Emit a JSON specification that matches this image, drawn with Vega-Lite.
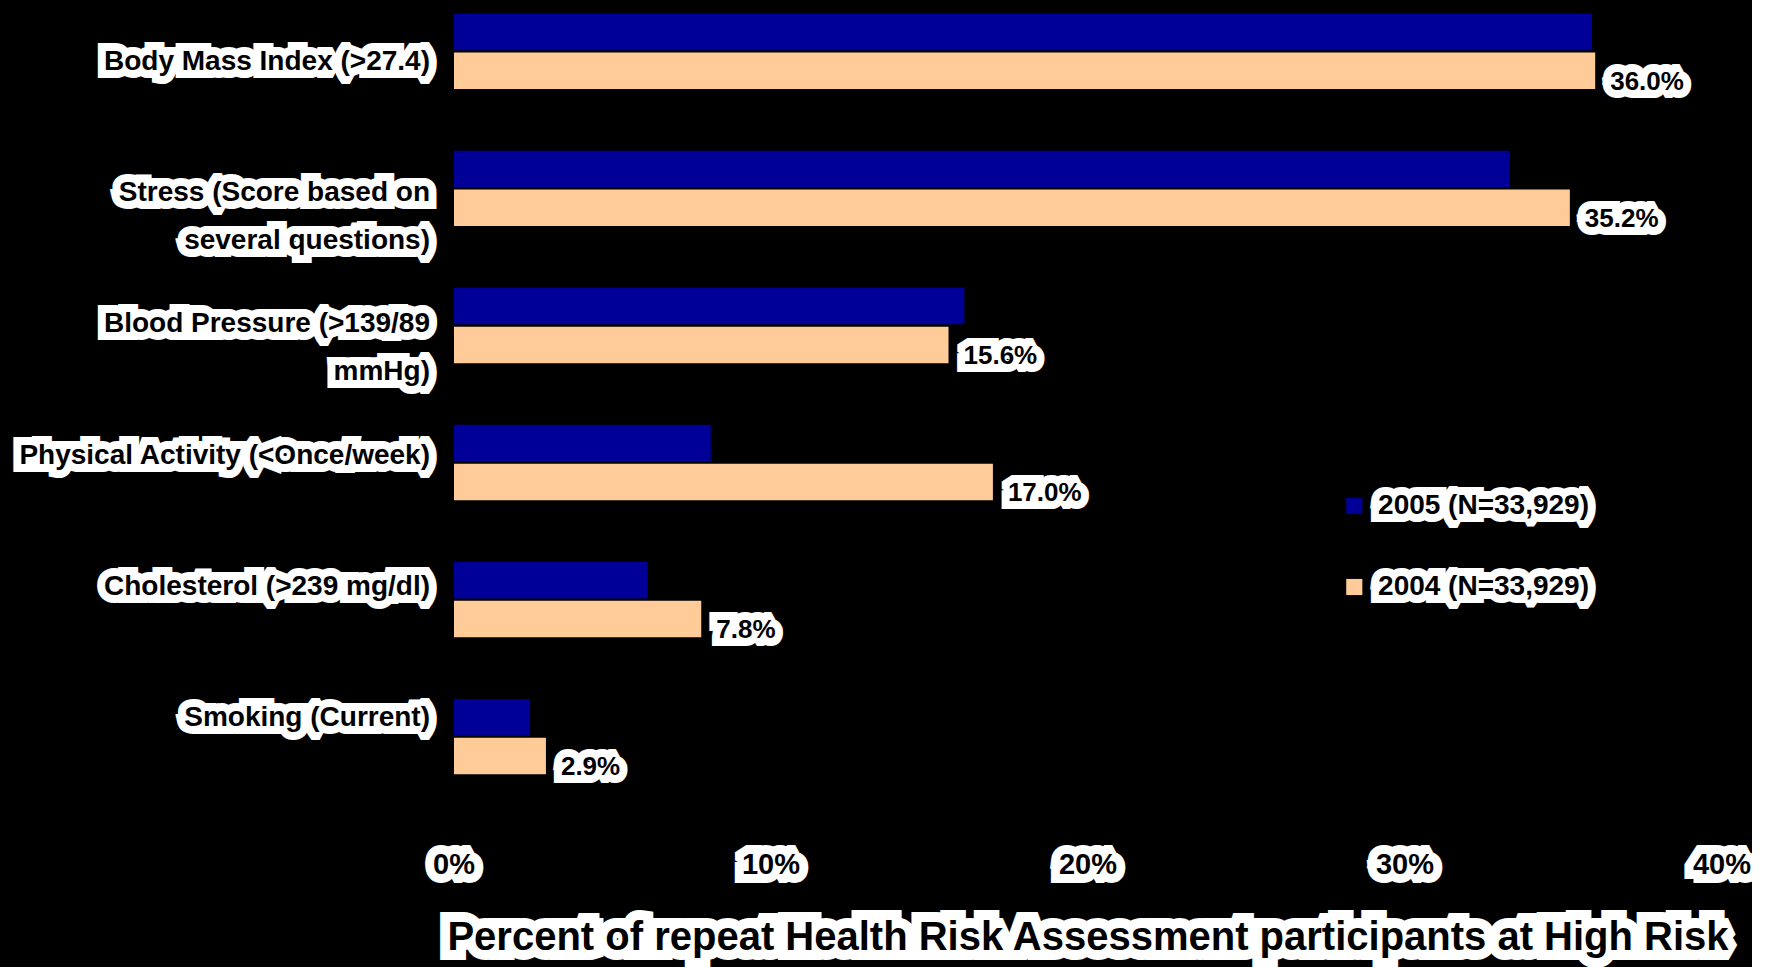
{
  "$schema": "https://vega.github.io/schema/vega-lite/v6.json",
  "background": "#000000",
  "padding": 0,
  "bounds": "flush",
  "spacing": 24,
  "config": {
    "view": {"stroke": null},
    "text": {"font": "Liberation Sans", "fontWeight": "bold"}
  },
  "datasets": {
    "risks": [
      {"risk": "Body Mass Index (>27.4)", "year": "2005 (N=33,929)", "pct": 0.359},
      {"risk": "Body Mass Index (>27.4)", "year": "2004 (N=33,929)", "pct": 0.360},
      {"risk": "Stress (Score based on\nseveral questions)", "year": "2005 (N=33,929)", "pct": 0.333},
      {"risk": "Stress (Score based on\nseveral questions)", "year": "2004 (N=33,929)", "pct": 0.352},
      {"risk": "Blood Pressure (>139/89\nmmHg)", "year": "2005 (N=33,929)", "pct": 0.161},
      {"risk": "Blood Pressure (>139/89\nmmHg)", "year": "2004 (N=33,929)", "pct": 0.156},
      {"risk": "Physical Activity (<Once/week)", "year": "2005 (N=33,929)", "pct": 0.081},
      {"risk": "Physical Activity (<Once/week)", "year": "2004 (N=33,929)", "pct": 0.170},
      {"risk": "Cholesterol (>239 mg/dl)", "year": "2005 (N=33,929)", "pct": 0.061},
      {"risk": "Cholesterol (>239 mg/dl)", "year": "2004 (N=33,929)", "pct": 0.078},
      {"risk": "Smoking (Current)", "year": "2005 (N=33,929)", "pct": 0.024},
      {"risk": "Smoking (Current)", "year": "2004 (N=33,929)", "pct": 0.029}
    ],
    "ticks": [{"v": 0}, {"v": 0.1}, {"v": 0.2}, {"v": 0.3}, {"v": 0.4}],
    "legend": [{"year": "2005 (N=33,929)"}, {"year": "2004 (N=33,929)"}],
    "title": [{"t": "Percent of repeat Health Risk Assessment participants at High Risk"}]
  },
  "hconcat": [
    {
      "width": 430,
      "height": 788,
      "data": {"name": "risks"},
      "transform": [{"filter": "datum.year == '2004 (N=33,929)'"}],
      "encoding": {
        "y": {"field": "risk", "type": "nominal", "sort": null,
          "scale": {"domain": ["Body Mass Index (>27.4)", "Stress (Score based on\nseveral questions)", "Blood Pressure (>139/89\nmmHg)", "Physical Activity (<Once/week)", "Cholesterol (>239 mg/dl)", "Smoking (Current)"], "paddingInner": 0.45, "paddingOuter": 0.1},
          "axis": null},
        "x": {"datum": 1, "type": "quantitative", "scale": {"domain": [0, 1]}, "axis": null},
        "text": {"field": "risk"}
      },
      "layer": [
        {"mark": {"type": "text", "align": "right", "baseline": "middle", "fontSize": 28, "lineBreak": "\n", "lineHeight": 48, "dy": -4, "fill": "#ffffff", "stroke": "#ffffff", "strokeWidth": 16, "strokeJoin": "miter", "strokeMiterLimit": 2}},
        {"mark": {"type": "text", "align": "right", "baseline": "middle", "fontSize": 28, "lineBreak": "\n", "lineHeight": 48, "dy": -4, "fill": "#000000"}}
      ]
    },
    {
      "vconcat": [
        {
          "width": 1268,
          "height": 788,
          "resolve": {"scale": {"y": "independent"}},
          "layer": [
            {
              "data": {"name": "risks"},
              "mark": {"type": "bar"},
              "encoding": {
                "y": {"field": "risk", "type": "nominal", "sort": null,
                  "scale": {"domain": ["Body Mass Index (>27.4)", "Stress (Score based on\nseveral questions)", "Blood Pressure (>139/89\nmmHg)", "Physical Activity (<Once/week)", "Cholesterol (>239 mg/dl)", "Smoking (Current)"], "paddingInner": 0.45, "paddingOuter": 0.1},
                  "axis": null},
                "yOffset": {"field": "year", "type": "nominal", "scale": {"domain": ["2005 (N=33,929)", "2004 (N=33,929)"], "paddingInner": 0.06}},
                "x": {"field": "pct", "type": "quantitative", "scale": {"domain": [0, 0.4]}, "axis": null},
                "color": {"field": "year", "type": "nominal", "scale": {"domain": ["2005 (N=33,929)", "2004 (N=33,929)"], "range": ["#000099", "#FFCC99"]}, "legend": null}
              }
            },
            {
              "data": {"name": "risks"},
              "transform": [{"filter": "datum.year == '2004 (N=33,929)'"}],
              "encoding": {
                "y": {"field": "risk", "type": "nominal", "sort": null,
                  "scale": {"domain": ["Body Mass Index (>27.4)", "Stress (Score based on\nseveral questions)", "Blood Pressure (>139/89\nmmHg)", "Physical Activity (<Once/week)", "Cholesterol (>239 mg/dl)", "Smoking (Current)"], "paddingInner": 0.45, "paddingOuter": 0.1},
                  "axis": null},
                "yOffset": {"field": "year", "type": "nominal", "scale": {"domain": ["2005 (N=33,929)", "2004 (N=33,929)"], "paddingInner": 0.06}},
                "x": {"field": "pct", "type": "quantitative", "scale": {"domain": [0, 0.4]}, "axis": null},
                "text": {"field": "pct", "format": ".1%"}
              },
              "layer": [
                {"mark": {"type": "text", "align": "left", "baseline": "middle", "fontSize": 26, "dx": 15, "dy": 11, "fill": "#ffffff", "stroke": "#ffffff", "strokeWidth": 16, "strokeJoin": "miter", "strokeMiterLimit": 2}},
                {"mark": {"type": "text", "align": "left", "baseline": "middle", "fontSize": 26, "dx": 15, "dy": 11, "fill": "#000000"}}
              ]
            },
            {
              "data": {"name": "legend"},
              "encoding": {
                "y": {"field": "year", "type": "nominal", "sort": null, "scale": {"type": "point", "domain": ["2005 (N=33,929)", "2004 (N=33,929)"], "range": [506, 587], "padding": 0}, "axis": null}
              },
              "layer": [
                {"mark": {"type": "point", "shape": "square", "filled": true, "size": 260, "opacity": 1},
                 "encoding": {"x": {"datum": 0.284, "type": "quantitative"}, "color": {"field": "year", "type": "nominal", "legend": null}}},
                {"mark": {"type": "text", "align": "left", "baseline": "middle", "fontSize": 28, "fill": "#ffffff", "stroke": "#ffffff", "strokeWidth": 16, "strokeJoin": "miter", "strokeMiterLimit": 2},
                 "encoding": {"x": {"datum": 0.2915, "type": "quantitative"}, "text": {"field": "year"}}},
                {"mark": {"type": "text", "align": "left", "baseline": "middle", "fontSize": 28, "fill": "#000000"},
                 "encoding": {"x": {"datum": 0.2915, "type": "quantitative"}, "text": {"field": "year"}}}
              ]
            }
          ]
        },
        {
          "width": 1268,
          "height": 179,
          "layer": [
            {
              "data": {"name": "ticks"},
              "encoding": {
                "x": {"field": "v", "type": "quantitative", "scale": {"domain": [0, 0.4]}, "axis": null},
                "y": {"datum": 0.57, "type": "quantitative", "scale": {"domain": [0, 1]}, "axis": null},
                "text": {"field": "v", "format": ".0%"}
              },
              "layer": [
                {"mark": {"type": "text", "align": "center", "baseline": "middle", "fontSize": 29, "fill": "#ffffff", "stroke": "#ffffff", "strokeWidth": 18, "strokeJoin": "miter", "strokeMiterLimit": 2}},
                {"mark": {"type": "text", "align": "center", "baseline": "middle", "fontSize": 29, "fill": "#000000"}}
              ]
            },
            {
              "data": {"name": "title"},
              "encoding": {
                "x": {"datum": 0.2, "type": "quantitative", "scale": {"domain": [0, 0.4]}, "axis": null},
                "y": {"datum": 0.164, "type": "quantitative", "scale": {"domain": [0, 1]}, "axis": null},
                "text": {"field": "t"}
              },
              "layer": [
                {"mark": {"type": "text", "align": "center", "baseline": "middle", "fontSize": 40, "fill": "#ffffff", "stroke": "#ffffff", "strokeWidth": 20, "strokeJoin": "miter", "strokeMiterLimit": 2}},
                {"mark": {"type": "text", "align": "center", "baseline": "middle", "fontSize": 40, "fill": "#000000"}}
              ]
            }
          ]
        }
      ],
      "spacing": 0,
      "bounds": "flush"
    }
  ]
}
